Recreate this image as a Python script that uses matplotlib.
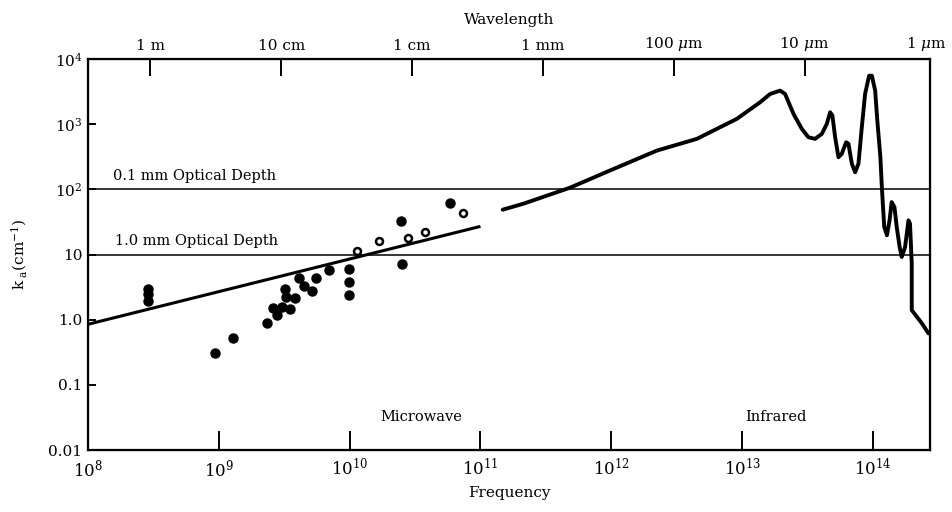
import matplotlib
matplotlib.use("Agg")
import matplotlib.pyplot as plt

plt.rcParams['font.family'] = ['DejaVu Serif']
plt.rcParams['mathtext.fontset'] = 'dejavuserif'

# Straight-line fit (microwave)
fit_f = [1e8, 1e11]
fit_k = [0.85, 27]

# Filled data points (microwave measurements)
filled_f = [2.86e8, 2.86e8, 2.86e8, 9.3e8, 1.28e9, 2.34e9, 2.6e9, 2.76e9, 3.06e9,
            3.19e9, 3.29e9, 3.49e9, 3.8e9, 4.1e9, 4.45e9, 5.15e9, 5.57e9, 6.95e9,
            9.9e9, 9.9e9, 9.9e9, 2.45e10, 2.5e10, 5.9e10]
filled_k = [2.95, 2.47, 1.95, 0.31, 0.53, 0.89, 1.53, 1.17, 1.57,
            2.95, 2.19, 1.48, 2.14, 4.37, 3.28, 2.71, 4.3, 5.8,
            5.93, 3.73, 2.38, 32.4, 7.2, 62]

# Open data points
open_f = [1.13e10, 1.69e10, 2.77e10, 3.76e10, 7.33e10]
open_k = [11.2, 15.9, 17.9, 22.4, 42.6]

# Infrared absorption curve
ir_f = [1.48e11, 2.13e11, 4.84e11, 9.8e11, 2.23e12, 4.51e12, 7.2e12, 9.1e12, 1.37e13,
        1.64e13, 1.95e13, 2.13e13, 2.47e13, 2.86e13, 3.21e13, 3.61e13, 4.07e13, 4.44e13,
        4.71e13, 4.9e13, 5.14e13, 5.45e13, 5.78e13, 6.24e13, 6.5e13, 6.9e13, 7.31e13,
        7.75e13, 8.22e13, 8.71e13, 9.35e13, 9.81e13, 1.04e14, 1.08e14, 1.14e14, 1.17e14,
        1.19e14, 1.22e14, 1.28e14, 1.34e14, 1.39e14, 1.46e14, 1.52e14, 1.6e14, 1.66e14,
        1.76e14, 1.87e14, 1.92e14, 1.98e14, 1.98e14, 2.37e14, 2.66e14]
ir_k = [48.7, 60.2, 106, 195, 393, 595, 952, 1205, 2163,
        2911, 3273, 2911, 1438, 847, 630, 595, 710, 1011,
        1521, 1355, 630, 311, 351, 528, 499, 247, 183,
        247, 896, 2911, 5546, 5546, 3273, 1135, 311, 108,
        60.1, 26.4, 19.7, 33.4, 63.7, 53.4, 26.4, 13.0, 9.16,
        13.0, 33.4, 29.7, 7.26, 1.4, 0.875, 0.615]

ytick_vals = [0.01, 0.1, 1, 10, 100, 1000, 10000]
ytick_labels = ['0.01', '0.1', '1.0', '10', r'$10^2$', r'$10^3$', r'$10^4$']
xtick_vals = [1e8, 1e9, 1e10, 1e11, 1e12, 1e13, 1e14]
xtick_labels = [r'$10^{8}$', r'$10^{9}$', r'$10^{10}$', r'$10^{11}$', r'$10^{12}$',
                r'$10^{13}$', r'$10^{14}$']
XMAX = 2.73e14
wl_vals = [3e8, 3e9, 3e10, 3e11, 3e12, 3e13]
wl_labels = ['1 m', '10 cm', '1 cm', '1 mm', r'100 $\mu$m', r'10 $\mu$m']
wl_end_label = r'1 $\mu$m'

fig = plt.figure(figsize=(9.53, 5.12), dpi=100)
ax = fig.add_axes([88/953, 1-450/512, (930-88)/953, (450-59)/512])
ax.set_xscale('log')
ax.set_yscale('log')
ax.set_xlim(1e8, XMAX)
ax.set_ylim(0.01, 1e4)

ax.axhline(100, color='black', lw=1.1)
ax.axhline(10, color='black', lw=1.1)

ax.plot(fit_f, fit_k, color='black', lw=2.2, solid_capstyle='butt')
ax.plot(ir_f, ir_k, color='black', lw=2.8, solid_joinstyle='round', solid_capstyle='round')
ax.plot(filled_f, filled_k, 'o', color='black', ms=6.5, ls='none')
ax.plot(open_f, open_k, 'o', mfc='white', mec='black', mew=1.8, ms=5, ls='none')

for s in ax.spines.values():
    s.set_linewidth(1.6)

ax.set_yticks(ytick_vals)
ax.set_yticklabels(ytick_labels, fontsize=11)
ax.set_xticks(xtick_vals)
ax.set_xticklabels(xtick_labels, fontsize=12)
ax.minorticks_off()
ax.tick_params(axis='y', direction='in', length=6, width=1.4, pad=4)
ax.tick_params(axis='x', direction='in', length=14, width=1.4, pad=6)

ax2 = ax.twiny()
ax2.set_xscale('log')
ax2.set_xlim(ax.get_xlim())
ax2.set_xticks(wl_vals)
ax2.set_xticklabels(wl_labels, fontsize=11)
ax2.minorticks_off()
ax2.tick_params(axis='x', direction='in', length=12, width=1.4, pad=4)
# label at the right end of the wavelength axis
ax2.annotate(wl_end_label, xy=(0.995, 1.0), xycoords='axes fraction',
             xytext=(0, 4), textcoords='offset points', fontsize=11,
             ha='center', va='bottom')

ax.set_xlabel('Frequency', fontsize=11, labelpad=4)
ax2.set_xlabel('Wavelength', fontsize=11, labelpad=8)
ax.set_ylabel(r'k$_{\ \mathrm{a}}$(cm$^{-1}$)', fontsize=11, labelpad=14)

ax.text(1.55e8, 125, '0.1 mm Optical Depth', fontsize=10.5, va='bottom', ha='left')
ax.text(1.6e8, 12.5, '1.0 mm Optical Depth', fontsize=10.5, va='bottom', ha='left')
ax.text(3.5e10, 0.032, 'Microwave', fontsize=10.5, ha='center', va='center')
ax.text(1.8e13, 0.032, 'Infrared', fontsize=10.5, ha='center', va='center')

fig.savefig('out.png', dpi=100)
